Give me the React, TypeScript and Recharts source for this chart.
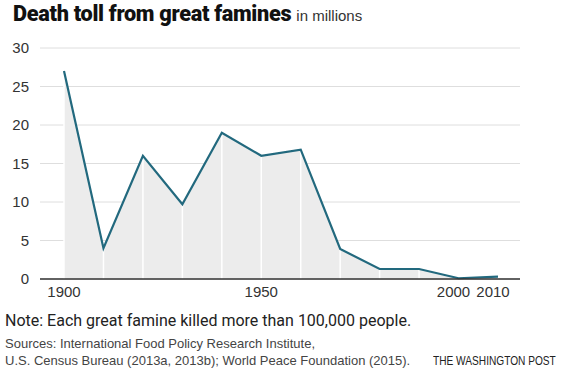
import React from 'react';
import { ComposedChart, Area, Line, XAxis, YAxis, CartesianGrid, ReferenceLine } from 'recharts';

const years = [1900, 1910, 1920, 1930, 1940, 1950, 1960, 1970, 1980, 1990, 2000, 2010];
const deaths = [27, 4, 16, 9.7, 19, 16, 16.8, 3.9, 1.3, 1.3, 0.1, 0.3];
const xTicks = [1900, 1950, 2000, 2010];
const yTicks = [0, 5, 10, 15, 20, 25, 30];

const FONT = '"Liberation Sans", Arial, sans-serif';
const LINE_COLOR = '#22697e';

const XTick = (props: any) => {
  const { x, y, payload } = props;
  // 2000 and 2010 sit close together, nudge them apart like the original
  const dx = payload.value >= 2000 ? -5 : 0;
  return (
    <text x={x + dx} y={y} dy="0.71em" textAnchor="middle" fill="#333" fontSize={15} fontFamily={FONT}>
      {payload.value}
    </text>
  );
};

const App: React.FC = () => {
  const data = years.map((year, i) => ({ year, deaths: deaths[i] }));

  return (
    <div style={{ position: 'absolute', left: 0, top: 0, width: 564, height: 381, background: '#fff', fontFamily: FONT }}>
      <div style={{ position: 'absolute', left: 13, top: 1, whiteSpace: 'nowrap' }}>
        <span style={{ fontFamily: 'Roboto, sans-serif', fontWeight: 900, fontSize: 21.7, color: '#111', letterSpacing: -0.3 }}>
          Death toll from great famines
        </span>
        <span style={{ fontSize: 15, color: '#333', marginLeft: 5 }}>in millions</span>
      </div>

      <ComposedChart
        width={564}
        height={310}
        data={data}
        margin={{ top: 48, right: 44, left: 0, bottom: 0 }}
        style={{ position: 'absolute', left: 0, top: 0 }}
      >
        <CartesianGrid vertical={false} stroke="#dedede" strokeWidth={1} />
        <XAxis
          dataKey="year"
          type="number"
          domain={[1900, 2010]}
          ticks={xTicks}
          padding={{ left: 24, right: 22 }}
          height={31}
          tickSize={0}
          tickMargin={7}
          tick={<XTick />}
          axisLine={{ stroke: '#333', strokeWidth: 1.5 }}
          tickLine={false}
          interval={0}
        />
        <YAxis
          domain={[0, 30]}
          ticks={yTicks}
          width={40}
          tickSize={0}
          tickMargin={11}
          axisLine={false}
          tickLine={false}
          tick={{ fill: '#333', fontSize: 15, fontFamily: FONT }}
        />
        <Area
          dataKey="deaths"
          type="linear"
          stroke="none"
          fill="#ececec"
          fillOpacity={1}
          isAnimationActive={false}
          dot={false}
          activeDot={false}
        />
        {data.map((d) => (
          <ReferenceLine
            key={d.year}
            segment={[{ x: d.year, y: 0 }, { x: d.year, y: d.deaths }]}
            stroke="#ffffff"
            strokeWidth={1.5}
            ifOverflow="visible"
          />
        ))}
        <Line
          dataKey="deaths"
          type="linear"
          stroke={LINE_COLOR}
          strokeWidth={2.2}
          dot={false}
          activeDot={false}
          isAnimationActive={false}
        />
      </ComposedChart>

      <div style={{ position: 'absolute', left: 5, top: 311, fontFamily: 'Roboto, sans-serif', fontSize: 16, color: '#222', whiteSpace: 'nowrap' }}>
        Note: Each great famine killed more than 100,000 people.
      </div>
      <div style={{ position: 'absolute', left: 5, top: 335, fontSize: 13, color: '#444', lineHeight: '17px', whiteSpace: 'nowrap' }}>
        Sources: International Food Policy Research Institute,
        <br />
        U.S. Census Bureau (2013a, 2013b); World Peace Foundation (2015).
      </div>
      <div
        style={{
          position: 'absolute',
          left: 433,
          top: 353,
          fontSize: 13,
          color: '#222',
          whiteSpace: 'nowrap',
          transform: 'scaleX(0.78)',
          transformOrigin: 'left center',
        }}
      >
        THE WASHINGTON POST
      </div>
    </div>
  );
};

export default App;
